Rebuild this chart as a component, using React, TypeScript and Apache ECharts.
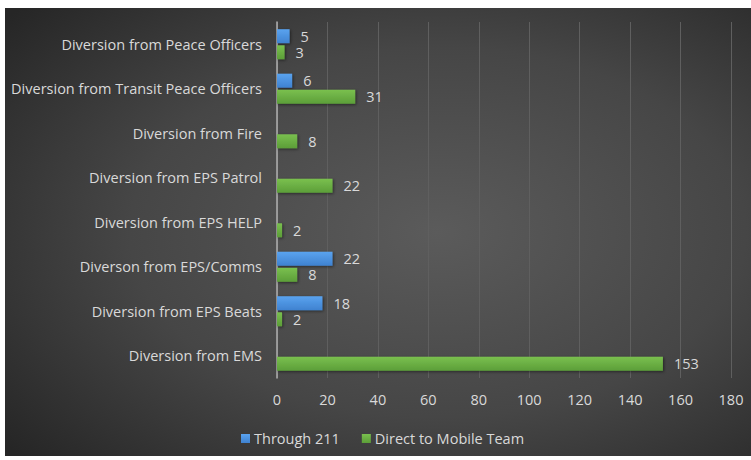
import React, { useEffect, useRef } from "react";
import * as echarts from "echarts";

const categories = [
  "Diversion from Peace Officers",
  "Diversion from Transit Peace Officers",
  "Diversion from Fire",
  "Diversion from EPS Patrol",
  "Diversion from EPS HELP",
  "Diverson from EPS/Comms",
  "Diversion from EPS Beats",
  "Diversion from EMS",
];
const through211: (number | null)[] = [5, 6, null, null, null, 22, 18, null];
const directMobile: (number | null)[] = [3, 31, 8, 22, 2, 8, 2, 153];
const seriesNames = ["Through 211", "Direct to Mobile Team"];
const xTicks = { min: 0, max: 180, interval: 20 };

const FONT = "Open Sans";
const FS = 14.5;
const TEXT = "#d9d9d9";

export default function App() {
  const ref = useRef<HTMLDivElement>(null);
  useEffect(() => {
    if (!ref.current) return;
    const chart = echarts.init(ref.current, undefined, { renderer: "svg" });
    const labelCfg = {
      show: true,
      position: "right" as const,
      distance: 11,
      color: TEXT,
      fontFamily: FONT,
      fontSize: FS,
    };
    chart.setOption({
      animation: false,
      backgroundColor: "#ffffff",
      graphic: [
        {
          type: "rect",
          z: -10,
          silent: true,
          shape: { x: 5, y: 8, width: 746, height: 448 },
          style: {
            fill: new echarts.graphic.RadialGradient(0.58, 0.5, 0.75, [
              { offset: 0, color: "#5b5b5b" },
              { offset: 0.55, color: "#464646" },
              { offset: 1, color: "#262626" },
            ]),
          },
        },
      ],
      grid: { left: 277, right: 20, top: 22, bottom: 82, containLabel: false },
      legend: {
        data: seriesNames,
        top: 426,
        left: 236,
        itemWidth: 9,
        itemHeight: 9,
        itemGap: 22,
        icon: "rect",
        textStyle: { color: TEXT, fontFamily: FONT, fontSize: FS, padding: [0, 0, 0, -1] },
      },
      xAxis: {
        type: "value",
        min: xTicks.min,
        max: xTicks.max,
        interval: xTicks.interval,
        axisLine: { show: false },
        axisTick: { show: false },
        axisLabel: { color: TEXT, fontFamily: FONT, fontSize: FS, margin: 14 },
        splitLine: { show: true, lineStyle: { color: "#5f5f5f", width: 1 } },
      },
      yAxis: {
        type: "category",
        data: categories,
        inverse: true,
        axisLine: { show: true, lineStyle: { color: "#b0b0b0", width: 1.5 } },
        axisTick: { show: false },
        axisLabel: { color: TEXT, fontFamily: FONT, fontSize: FS, margin: 15 },
        splitLine: { show: false },
      },
      series: [
        {
          name: seriesNames[0],
          type: "bar",
          data: through211,
          barWidth: 14,
          barGap: "15%",
          itemStyle: {
            color: new echarts.graphic.LinearGradient(0, 0, 0, 1, [
              { offset: 0, color: "#5aa3ef" },
              { offset: 1, color: "#3f82d0" },
            ]),
            shadowColor: "rgba(0,0,0,0.5)",
            shadowBlur: 3,
            shadowOffsetX: 1,
            shadowOffsetY: 1,
          },
          label: labelCfg,
        },
        {
          name: seriesNames[1],
          type: "bar",
          data: directMobile,
          barWidth: 14,
          barGap: "15%",
          itemStyle: {
            color: new echarts.graphic.LinearGradient(0, 0, 0, 1, [
              { offset: 0, color: "#7ac04f" },
              { offset: 1, color: "#5c9e38" },
            ]),
            shadowColor: "rgba(0,0,0,0.5)",
            shadowBlur: 3,
            shadowOffsetX: 1,
            shadowOffsetY: 1,
          },
          label: labelCfg,
        },
      ],
    });
    return () => chart.dispose();
  }, []);
  return (
    <div
      ref={ref}
      style={{ position: "fixed", left: 0, top: 0, width: 751, height: 460 }}
    />
  );
}
